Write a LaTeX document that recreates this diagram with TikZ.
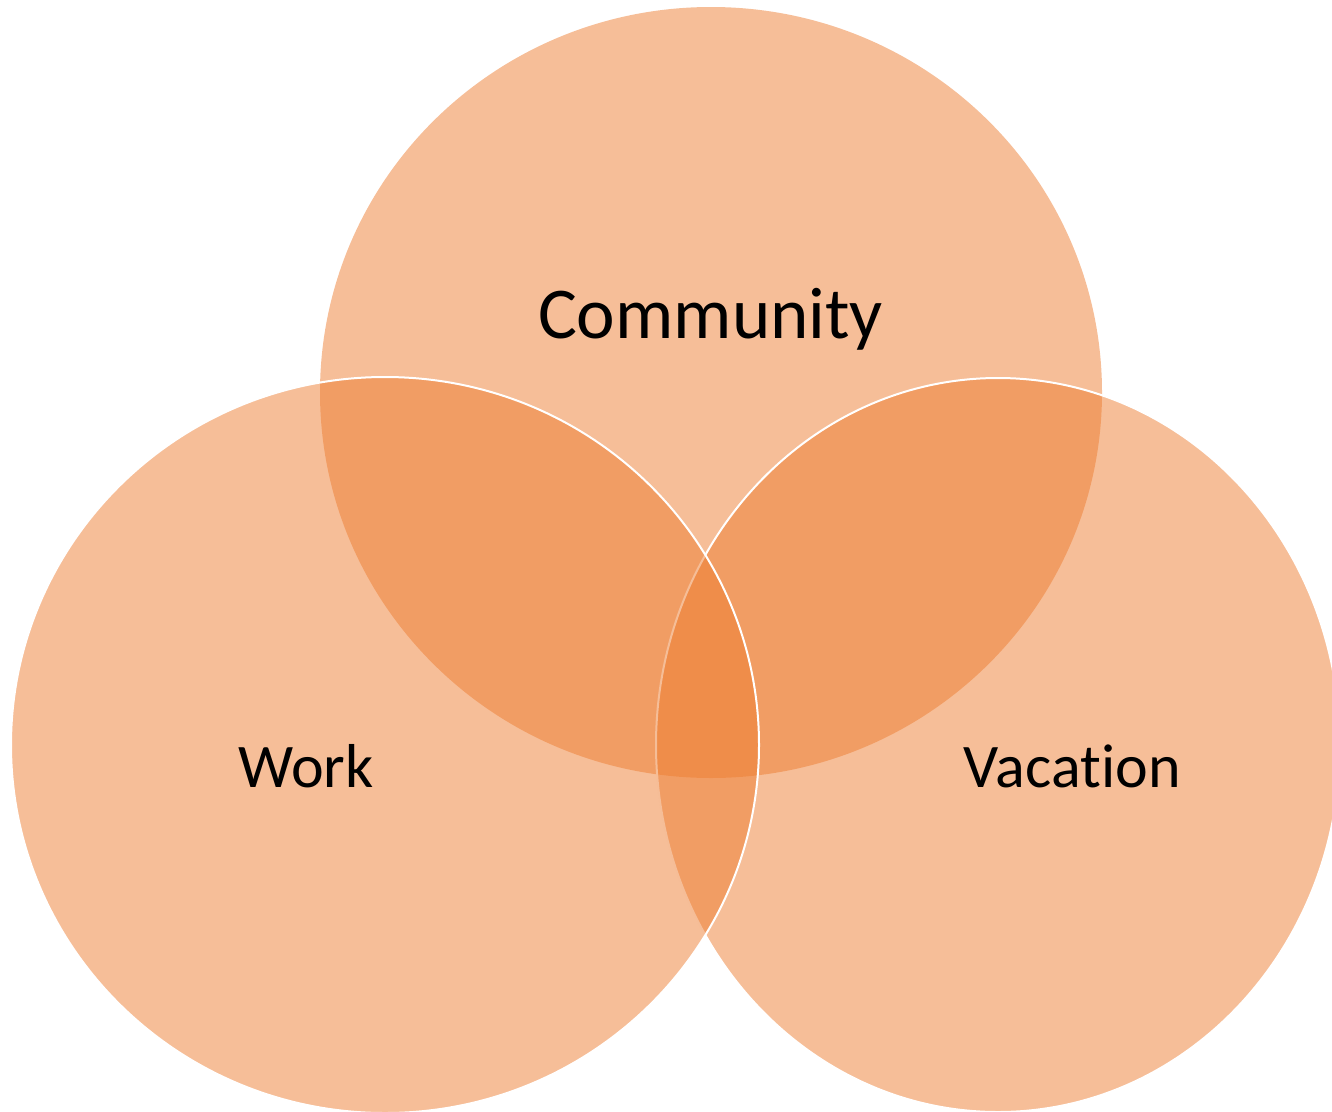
\documentclass[tikz,border=0pt]{standalone}
\usepackage{fontspec}
\setmainfont[Ligatures={NoCommon,NoContextual}]{Carlito}
\definecolor{venn}{HTML}{ED7D31}
\begin{document}
\begin{tikzpicture}[x=1pt,y=-1pt,
  setfill/.style={fill=venn, fill opacity=0.5},
  setline/.style={draw=white, line width=2pt},
  biglabel/.style={anchor=base, font=\fontsize{73}{80}\selectfont, text=black, inner sep=0pt},
  label/.style={anchor=base, font=\fontsize{62}{70}\selectfont, text=black, inner sep=0pt}]
\useasboundingbox (0,0) rectangle (1332,1111);
\begin{scope}
\clip (0,0) rectangle (1332,1111);
% Community
\fill[setfill] (711,392.5) ellipse [x radius=391pt, y radius=385.5pt];
% Vacation
\path[setfill, setline] (998,745) ellipse [x radius=342pt, y radius=367pt];
% Work
\path[setfill, setline] (385,745) ellipse [x radius=374pt, y radius=368pt];
\end{scope}
\node[biglabel] (community) at (710.5,338) {Community};
\node[label] (work) at (306,787) {Work};
\node[label] (vacation) at (1072.5,787) {Vaca\kern0pt tion};
\end{tikzpicture}
\end{document}
